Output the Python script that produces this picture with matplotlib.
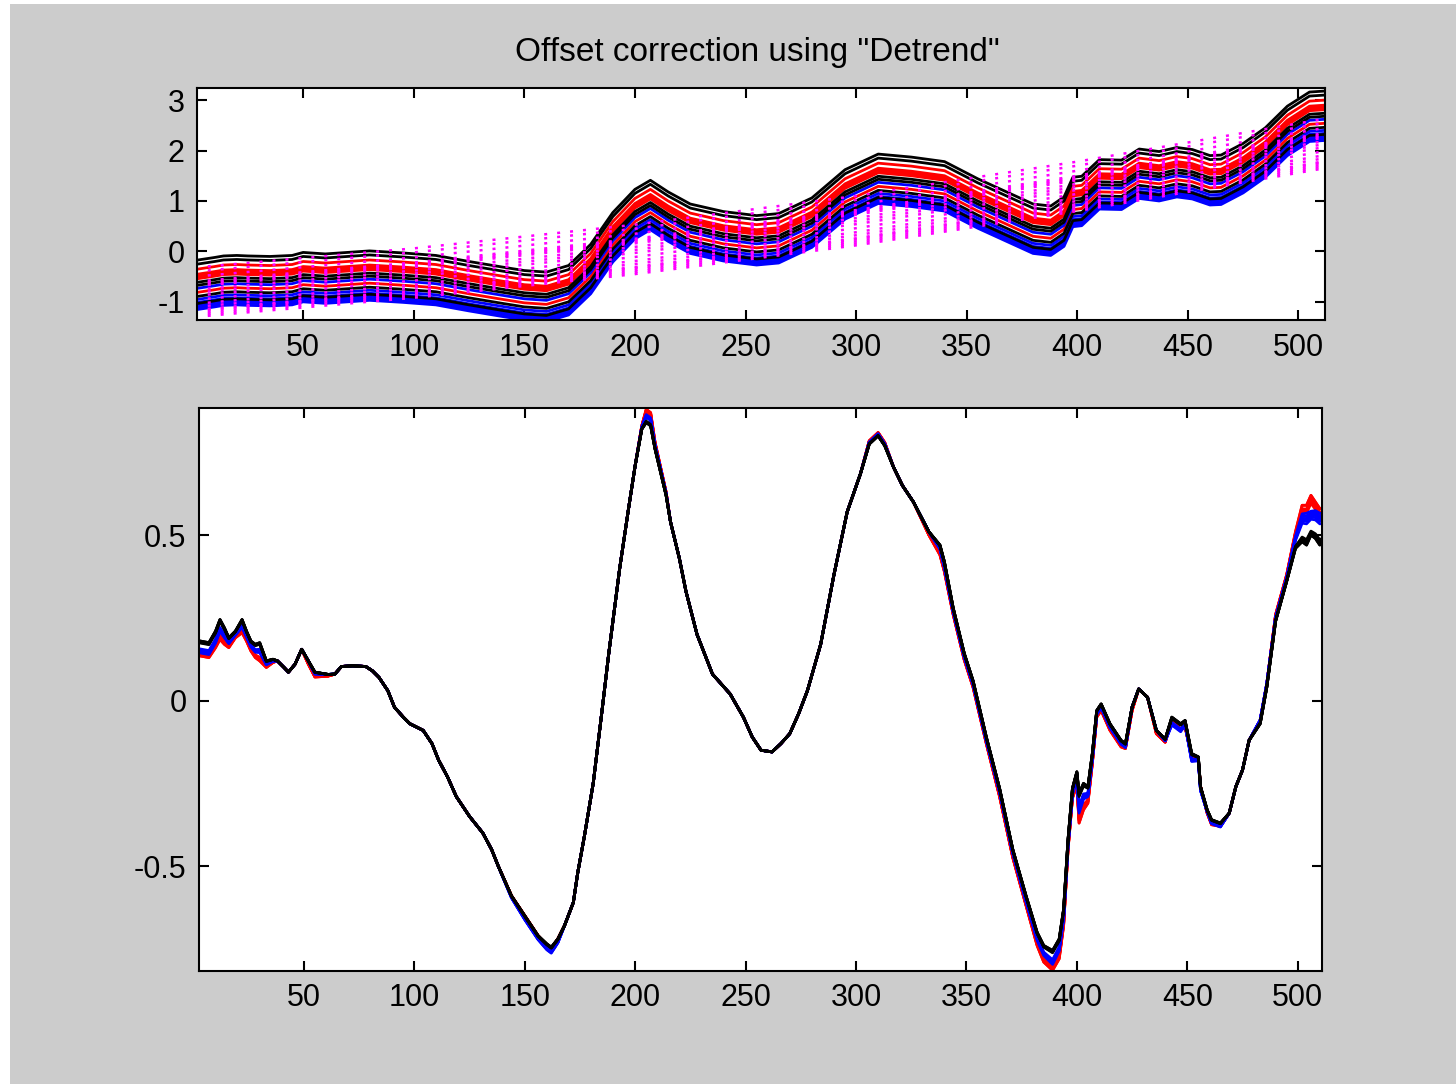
"""Offset correction using "Detrend": raw spectra with their trends, then detrended spectra."""

import matplotlib
matplotlib.use("Agg")
import matplotlib.pyplot as plt
from matplotlib.patches import Rectangle
import numpy as np

FIG_W_PX, FIG_H_PX = 1456, 1084
DPI = 100
BG_GRAY = "#cccccc"
FONT_SIZE = 22
TITLE_SIZE = 24

# Detrended spectrum (lower panel). Black curves are the reference,
# red / blue curves deviate from it by the deltas below (same x positions).
det_x = [1, 3, 7, 10, 12, 14, 16, 19, 22, 24, 26, 28, 30, 33, 36, 38, 41, 43, 46, 49,
         52, 55, 61, 64, 67, 72, 78, 81, 84, 88, 91, 95, 98, 104, 108, 111, 115, 119, 125, 131,
         135, 138, 144, 150, 156, 160, 162, 165, 168, 172, 174, 177, 179, 181, 185, 188, 193, 197, 200, 203,
         205, 207, 209, 214, 216, 220, 223, 228, 235, 243, 249, 253, 257, 262, 266, 270, 274, 278, 284, 290,
         296, 302, 306, 310, 313, 317, 321, 326, 333, 338, 340, 344, 349, 353, 359, 365, 371, 377, 382, 385,
         389, 392, 394, 396, 398, 400, 401, 403, 405, 407, 409, 411, 415, 420, 422, 425, 428, 432, 436, 440,
         443, 447, 449, 452, 455, 456, 459, 461, 465, 469, 472, 475, 478, 483, 486, 490, 495, 499, 502, 504,
         506, 508, 510, 512]
det_black = [0.18, 0.18, 0.175, 0.21, 0.245, 0.22, 0.19, 0.21, 0.245, 0.21, 0.18, 0.17, 0.175, 0.12, 0.125, 0.12, 0.10, 0.086, 0.11, 0.155,
             0.12, 0.086, 0.079, 0.08, 0.103, 0.105, 0.103, 0.09, 0.07, 0.03, -0.02, -0.05, -0.07, -0.09, -0.13, -0.18, -0.23, -0.29, -0.35, -0.40,
             -0.45, -0.50, -0.59, -0.65, -0.71, -0.735, -0.745, -0.72, -0.68, -0.61, -0.52, -0.41, -0.33, -0.25, -0.03, 0.14, 0.40, 0.58, 0.71, 0.82,
             0.84, 0.83, 0.76, 0.62, 0.54, 0.43, 0.33, 0.20, 0.08, 0.02, -0.05, -0.11, -0.15, -0.155, -0.13, -0.10, -0.04, 0.03, 0.17, 0.38,
             0.57, 0.685, 0.775, 0.80, 0.77, 0.705, 0.65, 0.60, 0.51, 0.47, 0.42, 0.28, 0.143, 0.06, -0.11, -0.265, -0.45, -0.59, -0.70, -0.74,
             -0.755, -0.72, -0.63, -0.42, -0.265, -0.215, -0.28, -0.25, -0.26, -0.16, -0.03, -0.01, -0.07, -0.12, -0.13, -0.02, 0.035, 0.01, -0.09, -0.116,
             -0.05, -0.07, -0.06, -0.16, -0.17, -0.26, -0.33, -0.36, -0.37, -0.34, -0.26, -0.21, -0.12, -0.07, 0.04, 0.24, 0.36, 0.46, 0.48, 0.47,
             0.50, 0.49, 0.47, 0.48]
det_red_delta = [-0.05, -0.045, -0.045, -0.05, -0.06, -0.05, -0.03, -0.02, -0.04, -0.03, -0.03, -0.04, -0.055, -0.02, -0.01, 0, 0, 0, 0, 0,
                 -0.01, -0.015, -0.005, 0, 0, 0, 0, 0, 0, 0, 0, 0, 0, 0, 0, 0, 0, 0, 0, 0,
                 0, 0, 0, 0, 0, -0.005, -0.005, 0, 0, 0, 0, 0, 0, 0, 0, 0, 0, 0, 0, 0.01,
                 0.04, 0.04, 0.02, 0.01, 0, 0, 0, 0, 0, 0, 0, 0, 0, 0, 0, 0, 0, 0, 0, 0,
                 0, 0, 0.01, 0.01, 0.01, 0, 0, 0, -0.01, -0.03, -0.03, -0.02, -0.02, -0.02, -0.02, -0.025, -0.025, -0.03, -0.04, -0.05,
                 -0.06, -0.06, -0.05, -0.03, -0.03, -0.04, -0.09, -0.08, -0.05, -0.03, -0.02, -0.02, -0.02, -0.02, -0.015, -0.01, 0, 0, -0.01, -0.01,
                 -0.01, -0.02, -0.02, -0.01, -0.01, 0, -0.01, -0.015, -0.01, 0, 0, 0, 0, 0.01, 0.01, 0.02, 0.02, 0.05, 0.11, 0.12,
                 0.12, 0.11, 0.11, 0.10]
det_blue_delta = [-0.03, -0.03, -0.03, -0.03, -0.03, -0.025, -0.015, -0.01, -0.02, -0.015, -0.015, -0.02, -0.025, -0.01, -0.005, 0, 0, 0, 0, 0,
                  0, -0.005, 0, 0, 0, 0, 0, 0, 0, 0, 0, 0, 0, 0, 0, 0, 0, 0, 0, 0,
                  0, 0, -0.005, -0.01, -0.01, -0.015, -0.015, -0.01, 0, 0, 0, 0, 0, 0, 0, 0, 0, 0, 0, 0.005,
                  0.02, 0.02, 0.01, 0.005, 0, 0, 0, 0, 0, 0, 0, 0, 0, 0, 0, 0, 0, 0, 0, 0,
                  0, 0, 0.005, 0.005, 0.005, 0, 0, 0, 0, -0.01, -0.015, -0.01, -0.01, -0.01, -0.01, -0.01, -0.01, -0.015, -0.02, -0.025,
                  -0.035, -0.03, -0.025, -0.015, -0.015, -0.02, -0.05, -0.04, -0.025, -0.015, -0.01, -0.01, -0.01, -0.01, -0.01, 0, 0, 0, 0, -0.005,
                  -0.02, -0.02, -0.01, -0.02, -0.01, -0.01, -0.005, -0.01, -0.01, 0, 0, 0, 0, 0.01, 0.01, 0.01, 0.01, 0.03, 0.07, 0.08,
                  0.06, 0.07, 0.08, 0.07]

# Raw spectra (upper panel): mean curve at coarser positions.
raw_x = [1, 10, 14, 20, 25, 35, 45, 50, 60, 80, 95, 110, 125, 140, 150, 160, 170, 180, 190, 200,
         207, 215, 225, 240, 255, 265, 280, 295, 310, 325, 340, 355, 370, 380, 388, 394, 398, 402, 410, 420,
         428, 437, 445, 452, 460, 465, 475, 485, 495, 505, 512]
raw_mid = [-0.66, -0.60, -0.57, -0.56, -0.57, -0.58, -0.56, -0.50, -0.53, -0.47, -0.51, -0.56, -0.68, -0.79, -0.86, -0.89, -0.76, -0.34, 0.29, 0.75,
           0.93, 0.70, 0.46, 0.31, 0.23, 0.27, 0.58, 1.14, 1.45, 1.39, 1.30, 0.96, 0.66, 0.46, 0.42, 0.60, 0.99, 1.01, 1.34, 1.33,
           1.55, 1.50, 1.58, 1.54, 1.42, 1.43, 1.66, 1.97, 2.40, 2.68, 2.70]

# Fitted trends (magenta dotted lines), mean trend at a few positions.
trend_x = [1, 100, 200, 300, 400, 512]
trend_mid = [-0.80, -0.42, 0.05, 0.62, 1.30, 2.15]

# Per-curve vertical offsets of the raw spectra and scale of the detrended deviation.
red_offsets = [0.30, 0.20, 0.17, 0.14, 0.11, -0.16]
red_scales = [0.8, 0.9, 1.0, 1.0, 0.9, 0.85]
blue_offsets = [-0.08, -0.30, -0.36, -0.42, -0.46, -0.50]
blue_scales = [0.8, 1.0, 1.2, 0.9, 1.1, 1.0]
black_offsets = [0.48, 0.40, 0.04, -0.02, -0.24, -0.38]
black_scales = [0.0, 0.1, 0.2, 0.0, 0.15, 0.05]

TITLE = 'Offset correction using "Detrend"'
X_TICKS = [50, 100, 150, 200, 250, 300, 350, 400, 450, 500]
TOP_Y_TICKS = [-1, 0, 1, 2, 3]
BOT_Y_TICKS = [-0.5, 0, 0.5]


def _style_axes(ax):
    ax.set_facecolor("white")
    for spine in ax.spines.values():
        spine.set_linewidth(1.5)
        spine.set_color("black")
    ax.tick_params(direction="in", length=7, width=1.5, top=True, right=True,
                   labelsize=FONT_SIZE, pad=9, colors="black")
    ax.set_xticks(X_TICKS)
    ax.set_xticklabels([str(t) for t in X_TICKS])


def main() -> None:
    plt.rcParams["font.family"] = ["Liberation Sans", "DejaVu Sans"]
    plt.rcParams["axes.unicode_minus"] = False

    fig = plt.figure(figsize=(FIG_W_PX / DPI, FIG_H_PX / DPI), dpi=DPI, facecolor="white")
    # gray figure area, thin white strip on the left and top like the screenshot
    fig.patches.append(Rectangle((10 / FIG_W_PX, 0), 1, 1 - 4 / FIG_H_PX,
                                 transform=fig.transFigure, facecolor=BG_GRAY,
                                 edgecolor="none", zorder=-10))

    ax_top = fig.add_axes([197 / FIG_W_PX, 1 - 320 / FIG_H_PX, 1128 / FIG_W_PX, 232 / FIG_H_PX])
    ax_bot = fig.add_axes([199 / FIG_W_PX, 1 - 971 / FIG_H_PX, 1123 / FIG_W_PX, 563 / FIG_H_PX])

    raw_x_arr = np.array(raw_x)
    raw_mid_arr = np.array(raw_mid)
    det_x_arr = np.array(det_x)
    det_black_arr = np.array(det_black)
    groups = [
        ("red", red_offsets, red_scales, np.array(det_red_delta)),
        ("blue", blue_offsets, blue_scales, np.array(det_blue_delta)),
        ("black", black_offsets, black_scales, np.array(det_blue_delta)),
    ]

    # Upper panel: raw spectra, then the fitted trends on top.
    for color, offsets, _, _ in groups:
        for off in offsets:
            ax_top.plot(raw_x_arr, raw_mid_arr + off, color=color, linewidth=2.0)
    trend_x_arr = np.array(trend_x)
    trend_mid_arr = np.array(trend_mid)
    for _, offsets, _, _ in groups:
        for off in offsets:
            ax_top.plot(trend_x_arr, trend_mid_arr + off, color="#ff00ff", linewidth=1.8,
                        linestyle=(0, (1.2, 4.0)))
    ax_top.set_xlim(2, 512)
    ax_top.set_ylim(-1.36, 3.24)
    ax_top.set_yticks(TOP_Y_TICKS)
    ax_top.set_yticklabels([str(t) for t in TOP_Y_TICKS])
    _style_axes(ax_top)

    # Lower panel: detrended spectra.
    for color, _, scales, delta in groups:
        for scale in scales:
            ax_bot.plot(det_x_arr, det_black_arr + scale * delta, color=color, linewidth=2.0)
    ax_bot.set_xlim(2.5, 511)
    ax_bot.set_ylim(-0.817, 0.884)
    ax_bot.set_yticks(BOT_Y_TICKS)
    ax_bot.set_yticklabels(["-0.5", "0", "0.5"])
    _style_axes(ax_bot)

    fig.text(757 / FIG_W_PX, 1 - 61 / FIG_H_PX, TITLE, ha="center", va="baseline",
             fontsize=TITLE_SIZE, color="black")

    fig.savefig("out.png", dpi=DPI, facecolor=fig.get_facecolor())
    plt.close(fig)


if __name__ == "__main__":
    main()
